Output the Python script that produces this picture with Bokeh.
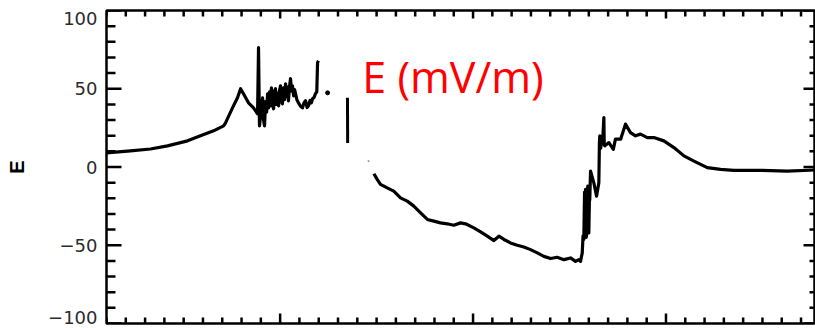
from bokeh.plotting import figure
from bokeh.models import Range1d, LinearAxis, FixedTicker, Label
from bokeh.embed import file_html
from bokeh.resources import INLINE

# Electric field trace (mV/m) against time, in pieces separated by data gaps
t_rise = [1.00, 2.24, 3.28, 4.16, 5.20, 5.87, 6.55, 7.07, 7.17, 7.53, 7.79, 7.95,
          8.10, 8.36, 8.62, 8.83, 8.88, 8.93, 9.09, 9.14, 9.19, 9.25, 9.30, 9.35,
          9.40, 9.45, 9.50, 9.55, 9.60, 9.66, 9.71, 9.76, 9.81, 9.86, 9.92, 9.97,
          10.02, 10.07, 10.12, 10.17, 10.23, 10.28, 10.33, 10.38, 10.43, 10.49,
          10.54, 10.59, 10.64, 10.70, 10.75, 10.80, 10.87, 10.95, 11.05, 11.16,
          11.24, 11.32, 11.40, 11.47, 11.55, 11.62, 11.68, 11.76, 11.83, 11.90,
          11.94, 11.99]
e_rise = [9.0, 10.3, 11.5, 13.5, 16.7, 19.9, 23.1, 26.3, 28.2, 37.8, 44.2, 50.0,
          46.8, 41.0, 37.8, 34.0, 76.3, 26.3, 44.2, 30.0, 26.3, 42.0, 35.0, 46.8,
          37.8, 48.0, 39.0, 50.6, 40.5, 37.2, 48.5, 50.0, 40.0, 47.0, 39.1, 49.0,
          51.9, 41.5, 40.4, 50.5, 43.0, 53.2, 45.0, 51.0, 42.3, 52.0,
          56.4, 48.5, 51.9, 45.5, 49.5, 46.8, 43.0, 41.0, 39.0, 37.8,
          41.0, 42.3, 38.0, 39.1, 42.5, 41.0, 43.6, 44.5, 46.8, 48.0,
          66.7, 67.9]

t_dot = [12.46]
e_dot = [47.4]

t_bar = [13.49, 13.50]
e_bar = [44.2, 15.4]

t_faint = [14.55, 14.62]
e_faint = [4.3, 3.3]

t_main = [14.86, 15.03, 15.20, 15.55, 15.89, 16.24, 16.59, 16.93, 17.28, 17.63,
          17.97, 18.31, 18.66, 19.00, 19.35, 19.61, 20.04, 20.39, 20.74, 21.08,
          21.34, 21.60, 21.94, 22.29, 22.63, 22.98, 23.33, 23.67, 24.02, 24.36,
          24.71, 25.05, 25.31, 25.48, 25.57, 25.66, 25.70, 25.74, 25.78, 25.80,
          25.83, 25.86, 25.88, 25.91, 25.95, 25.98, 26.00, 26.03, 26.05, 26.09,
          26.26, 26.40, 26.52, 26.55, 26.57, 26.62, 26.66, 26.70, 26.74, 26.78,
          26.80, 26.83, 27.04, 27.27, 27.38, 27.65, 27.90, 28.16, 28.42, 28.68,
          29.03, 29.37, 29.89, 30.41, 30.93, 31.45, 32.14, 32.83, 33.52, 34.90,
          36.29, 37.75]
e_main = [-4.3, -7.9, -11.1, -13.3, -15.4, -19.7, -21.8, -25.0, -29.3, -33.5,
          -34.6, -35.7, -36.3, -37.2, -35.7, -36.3, -38.9, -41.5, -44.2, -47.0,
          -44.2, -46.3, -48.5, -50.0, -51.1, -52.8, -54.9, -57.1, -58.5, -57.7,
          -59.2, -58.1, -60.3, -59.2, -60.3, -54.9, -44.0, -46.3, -16.0, -40.0,
          -14.3, -45.0, -44.2, -15.5, -12.2, -40.5, -42.1, -22.0, -20.7, -2.6,
          -10.1, -18.6, -10.1, 16.0, 19.9, 12.0, 18.5, 15.6, 22.0, 31.6,
          14.0, 13.5, 15.6, 11.3, 17.8, 17.8, 27.4, 22.0, 19.9, 21.0,
          18.8, 18.8, 16.7, 12.4, 7.1, 3.8, -0.4, -1.5, -2.1, -2.1,
          -2.6, -1.9]

# Axis ticks
y_major = [-100, -50, 0, 50, 100]
y_minor = [v for v in range(-100, 101, 10) if v not in y_major]
x_major = [10, 20, 30]
x_minor = [v for v in range(1, 38) if v not in x_major]

# Tick labels: the two end labels are nudged inward so they stay on the page
y_label_pos = [-96, -50, 0, 50, 95]
y_labels = {-96: "\u2212100", -50: "\u221250", 0: "0", 50: "50", 95: "100"}

x_start, x_end = 1.0, 37.75
y_start, y_end = -100.0, 100.0
frame_w, frame_h = 709, 313            # plot-area size in px
ux = (x_end - x_start) / frame_w       # data units per px along x
uy = (y_end - y_start) / frame_h       # data units per px along y

p = figure(width=815, height=328, output_backend="svg", toolbar_location=None,
           x_range=Range1d(x_start, x_end), y_range=Range1d(y_start, y_end),
           x_axis_location=None, y_axis_location=None,
           min_border_left=106, min_border_right=0,
           min_border_top=10, min_border_bottom=5)
p.grid.visible = False
p.background_fill_color = "white"
p.border_fill_color = "white"
# The plot box itself is drawn by the frame outline
p.outline_line_color = "black"
p.outline_line_width = 2.5

# Left axis carries only the tick labels and the axis title
left = LinearAxis(axis_label="E")
left.ticker = FixedTicker(ticks=y_label_pos, minor_ticks=[])
left.axis_line_color = None
left.major_tick_line_color = None
left.minor_tick_line_color = None
left.major_tick_in = 0
left.major_tick_out = 0
left.major_label_overrides = y_labels
left.major_label_text_font = "DejaVu Sans"
left.major_label_text_font_size = "18px"
left.major_label_text_color = "#2b2b2b"
left.major_label_standoff = 9
left.axis_label_text_font = "Liberation Sans"
left.axis_label_text_font_style = "bold"
left.axis_label_text_font_size = "20px"
left.axis_label_text_color = "black"
left.axis_label_standoff = 17
p.add_layout(left, "left")

# Inward tick marks on all four sides; lengths given in px
tick = dict(line_color="black", line_width=2.5)


def y_ticks(values, x0, length_px):
    p.segment(x0=[x0] * len(values), y0=values,
              x1=[x0 + length_px * ux] * len(values), y1=values, **tick)


def x_ticks(values, y0, length_px):
    p.segment(x0=values, y0=[y0] * len(values),
              x1=values, y1=[y0 + length_px * uy] * len(values), **tick)


y_ticks(y_minor, x_start, 9)
y_ticks(y_major, x_start, 15)
y_ticks(y_minor, x_end, -6)      # the right edge of the box lies just off the page
y_ticks(y_major, x_end, -12)
x_ticks(x_minor, y_start, 6)
x_ticks(x_major, y_start, 10)
x_ticks(x_minor, y_end, -6)
x_ticks(x_major, y_end, -8)

p.line(t_rise, e_rise, line_color="black", line_width=3.2, line_join="round")
p.scatter(t_dot, e_dot, size=4, color="black")
p.line(t_bar, e_bar, line_color="black", line_width=3)
p.line(t_faint, e_faint, line_color="#999999", line_width=1.5)
p.line(t_main, e_main, line_color="black", line_width=3.2, line_join="round")

p.add_layout(Label(x=14.26, y=57.8, text="E (mV/m)", text_color="#FF0000",
                   text_font="Open Sans", text_font_size="43px",
                   text_baseline="alphabetic", text_align="left"))

open("out.html", "w").write(file_html(p, INLINE))
